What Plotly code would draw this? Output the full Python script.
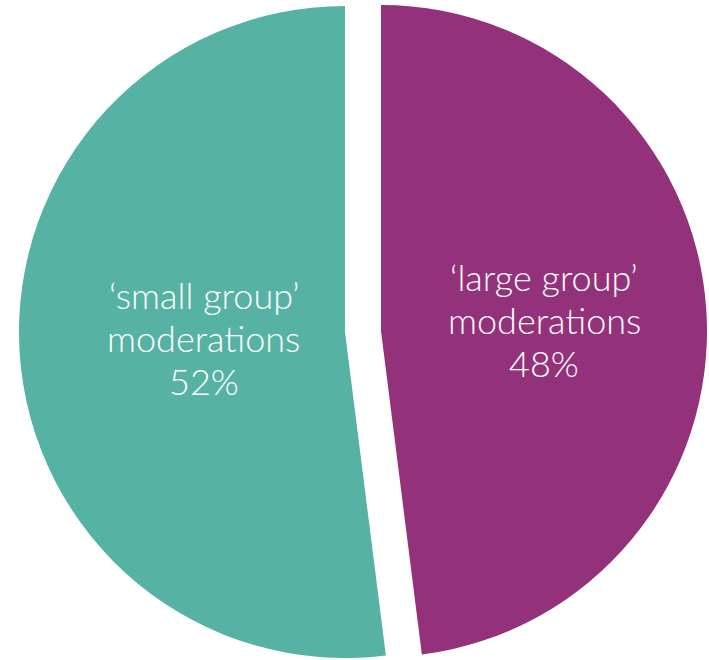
import plotly.graph_objects as go

# Share of moderations by group size
labels = ["‘large group’<br>moderations", "‘small group’<br>moderations"]
values = [48, 52]
colors = ["#93327A", "#56B3A3"]

W, H = 709, 660
R = 326  # pie radius in px

# each slice is drawn by its own pie trace so the two halves sit apart
centres_px = [(381, 331), (345, 332)]
text_centres_px = [(544, 277), (203.5, 295)]
line_gap = 43

fig = go.Figure()
for i, (cx, cy) in enumerate(centres_px):
    xc = cx / W
    yc = 1 - cy / H
    hw = R / W
    hh = R / H
    slice_colors = [c if j == i else "rgba(0,0,0,0)" for j, c in enumerate(colors)]
    fig.add_trace(go.Pie(
        labels=labels,
        values=values,
        sort=False,
        direction="clockwise",
        rotation=0,
        marker=dict(colors=slice_colors, line=dict(width=0)),
        textinfo="none",
        hoverinfo="skip",
        showlegend=False,
        domain=dict(x=[max(0, xc - hw), min(1, xc + hw)],
                    y=[max(0, yc - hh), min(1, yc + hh)]),
    ))

annotations = []
total = sum(values)
for (tx, ty), lab, val in zip(text_centres_px, labels, values):
    lines = lab.split("<br>") + [f"{round(100 * val / total)}%"]
    for k, line in enumerate(lines):
        annotations.append(dict(
            x=tx / W, y=1 - (ty + k * line_gap) / H,
            xref="paper", yref="paper",
            text=line, showarrow=False,
            xanchor="center", yanchor="middle",
            font=dict(family="Lato", size=36, color="white", weight=300),
        ))

fig.update_layout(
    width=W, height=H,
    margin=dict(l=0, r=0, t=0, b=0),
    paper_bgcolor="white",
    plot_bgcolor="white",
    annotations=annotations,
)

fig.write_html("out.html")
